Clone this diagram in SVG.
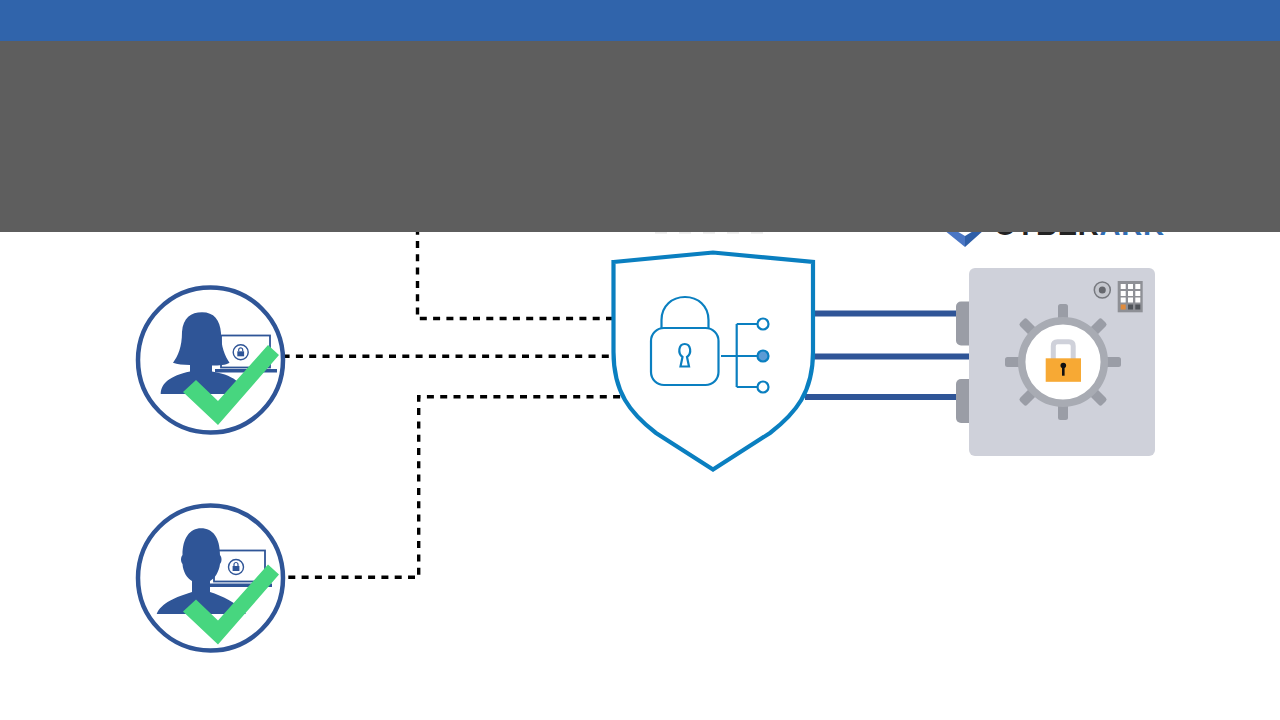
<svg xmlns="http://www.w3.org/2000/svg" width="1280" height="720" viewBox="0 0 1280 720">
<style>
.dash{fill:none;stroke:#000;stroke-width:3.4;stroke-dasharray:7 6.3}
.bar{fill:none;stroke:#2f5597;stroke-width:6}
.ring{fill:#fff;stroke:#2f5597;stroke-width:4.5}
.blue{fill:#2f5597}
.mon{fill:#fff;stroke:#2f5597;stroke-width:1.8}
.tick{fill:#47d67f}
.cy{fill:none;stroke:#0a7fc0;stroke-width:2.2}
.spoke{fill:#9a9da6}
.key{fill:#fff}
</style>
<defs>
<g id="badge"><circle r="7.5" fill="#fff" stroke="#2f5597" stroke-width="1.4"/><rect x="-3.4" y="-1" width="6.8" height="5" class="blue"/><path d="M-2-1v-1.5a2 2 0 0 1 4 0V-1" fill="none" stroke="#2f5597" stroke-width="1.2"/></g>
<rect id="spoke" x="-5" y="-58" width="10" height="22" rx="2.5" class="spoke"/>
<polygon id="check" class="tick" points="196,380 218,401 268,345 279,355 218,425 183,392"/>
</defs>
<rect width="1280" height="720" fill="#fff"/>

<!-- connectors -->
<g id="connectors">
<path class="dash" d="M417.500 227.700V318.500H612"/>
<path class="dash" d="M282.600 356.300H610"/>
<path class="dash" d="M288.300 577.300H418.700V396.700H622"/>
<path class="bar" d="M812 313.500H958"/>
<path class="bar" d="M812 356.500H970"/>
<path class="bar" d="M805 397H958"/>
</g>

<!-- user with laptop, long hair -->
<g id="user-a">
<circle class="ring" cx="210.500" cy="360" r="72.500"/>
<rect class="mon" x="221" y="335.500" width="49" height="32"/>
<use href="#badge" x="240.700" y="352.300"/>
<rect class="blue" x="215" y="369" width="62" height="3.500"/>
<path class="blue" d="M160.700 394C161 383 170 376 190 371.500V365C183 365 177 364 173 362.700C178 356 182 347 182 332C183 318 191 312.300 202 312.300C214 312.300 220 320 221 333C221 347 225 356 229.500 362.700C226 365 219 365.500 212 365.500V371.500C226 374 232 377 238 382V394Z"/>
<use href="#check"/>
</g>

<!-- user with laptop, short hair -->
<g id="user-b">
<circle class="ring" cx="210.500" cy="578" r="72.500"/>
<rect class="mon" x="214" y="550.500" width="51" height="31"/>
<use href="#badge" x="236" y="567"/>
<rect class="blue" x="210" y="583.500" width="62" height="3.500"/>
<path class="blue" d="M156.700 614C161 603 176 597 192 592V581C187 578 183 572 182.500 564C180.500 562 180.500 557 182.500 555C182.500 538 190 528.300 201 528.300C213 528.300 220 538 220 555C222 557 222 562 220 564C219 572 215 578 210 581V592C222 596 236 602 246 614Z"/>
<use href="#check" y="219.500"/>
</g>

<!-- access shield -->
<g id="shield">
<path d="M613.500 262L713 252.500L813 262V352C813 392 796 413 770 433L713 469.500L656 433C630 413 613.500 392 613.500 352Z" fill="#fff" stroke="#0a7fc0" stroke-width="4.200"/>
<path class="cy" d="M661.500 328V320C661.500 306 672 297 685 297C698 297 708.500 306 708.500 320V328"/>
<rect class="cy" x="651" y="328" width="67.500" height="57" rx="13"/>
<path class="cy" d="M680.500 366.500L682.500 357C677.500 353.500 678.500 344 684.700 344C691 344 692 353.500 687 357L689 366.500Z"/>
<path class="cy" d="M721 356H757M736.700 324V387M736.700 324H757M736.700 387H757"/>
<circle cx="763" cy="324" r="5.500" fill="#fff" stroke="#0a7fc0" stroke-width="2.200"/>
<circle cx="763" cy="356" r="5.500" fill="#5b9bd5" stroke="#0a7fc0" stroke-width="2.200"/>
<circle cx="763" cy="387" r="5.500" fill="#fff" stroke="#0a7fc0" stroke-width="2.200"/>
</g>

<!-- vault -->
<g id="vault">
<rect x="956" y="301.500" width="18" height="44" rx="5" fill="#9a9da6"/>
<rect x="956" y="379" width="18" height="44" rx="5" fill="#9a9da6"/>
<rect x="969" y="268" width="186" height="188" rx="6" fill="#cfd1da"/>
<g transform="translate(1063 362)">
<use href="#spoke"/>
<use href="#spoke" transform="rotate(45)"/>
<use href="#spoke" transform="rotate(90)"/>
<use href="#spoke" transform="rotate(135)"/>
<use href="#spoke" transform="rotate(180)"/>
<use href="#spoke" transform="rotate(225)"/>
<use href="#spoke" transform="rotate(270)"/>
<use href="#spoke" transform="rotate(315)"/>
<circle r="41.300" fill="#fff" stroke="#a8abb3" stroke-width="7.500"/>
</g>
<path d="M1053.300 360V346Q1053.300 341.800 1057.500 341.800H1069Q1073.200 341.800 1073.200 346V360" fill="none" stroke="#cfd1da" stroke-width="5"/>
<rect x="1045.700" y="358.300" width="35.300" height="23.500" fill="#f7a934"/>
<circle cx="1063.300" cy="365.500" r="2.800" fill="#111"/>
<rect x="1062" y="366" width="2.600" height="9.700" fill="#111"/>
<circle cx="1102.300" cy="290" r="8" fill="#c5c7ce" stroke="#77797f" stroke-width="1.500"/>
<circle cx="1102.300" cy="290" r="3.500" fill="#66686e"/>
<rect x="1117.700" y="281" width="25" height="31.300" fill="#8e9096"/>
<g class="key">
<rect x="1120.700" y="284" width="5" height="5"/><rect x="1128" y="284" width="5" height="5"/><rect x="1135.300" y="284" width="5" height="5"/>
<rect x="1120.700" y="291" width="5" height="5"/><rect x="1128" y="291" width="5" height="5"/><rect x="1135.300" y="291" width="5" height="5"/>
<rect x="1120.700" y="297.500" width="5" height="5"/><rect x="1128" y="297.500" width="5" height="5"/><rect x="1135.300" y="297.500" width="5" height="5"/>
</g>
<rect x="1120.700" y="304.500" width="5" height="5" fill="#e08b3c"/>
<rect x="1128" y="304.500" width="5" height="5" fill="#50545a"/>
<rect x="1135.300" y="304.500" width="5" height="5" fill="#50545a"/>
</g>

<!-- vendor mark above the vault -->
<g id="brand">
<polygon points="944,230 955,230 965,236 965,247" fill="#4a76c4"/>
<polygon points="984,230 975,230 965,236 965,247" fill="#2f5fa8"/>
<text x="994" y="235" font-family="'Liberation Sans',Arial,sans-serif" font-size="29" font-weight="bold" letter-spacing="0.8" fill="#222">CYBER<tspan fill="#2f6db5">ARK</tspan></text>
</g>
<path d="M655 232.800H775" fill="none" stroke="#e4e4e4" stroke-width="1.200" stroke-dasharray="12 12"/>

<!-- page header -->
<rect y="0" width="1280" height="41" fill="#3064ab"/>
<rect y="41" width="1280" height="191" fill="#5e5e5e"/>
</svg>
